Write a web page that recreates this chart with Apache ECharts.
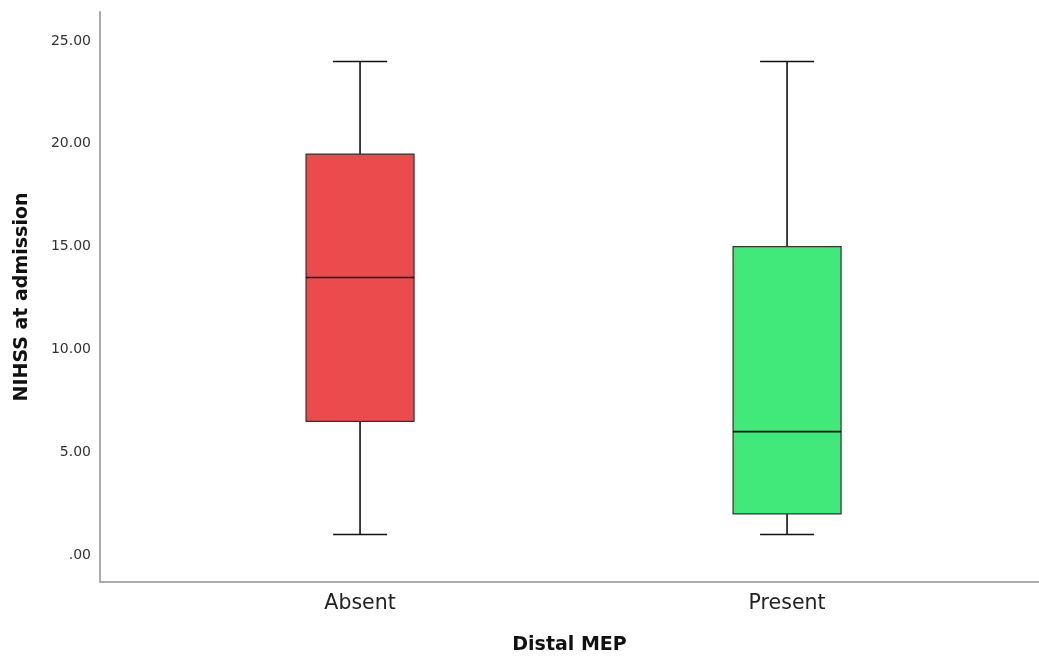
<!DOCTYPE html>
<html>
<head>
<meta charset="utf-8">
<script src="https://cdn.jsdelivr.net/npm/echarts@6/dist/echarts.min.js"></script>
<style>html,body{margin:0;padding:0;background:#fff}#c{width:1039px;height:657px}</style>
</head>
<body>
<div id="c"></div>
<script>
// Data
var categories = ['Absent', 'Present'];
var whiskerLow = [1, 1];
var q1 = [6.5, 2];
var median = [13.5, 6];
var q3 = [19.5, 15];
var whiskerHigh = [24, 24];
var boxColors = ['#EB4B4C', '#41E87A'];
var yTicks = [0, 5, 10, 15, 20, 25];

var data = categories.map(function (c, i) {
  return [i, whiskerLow[i], q1[i], median[i], q3[i], whiskerHigh[i]];
});

var chart = echarts.init(document.getElementById('c'));
var option = {
  animation: false,
  grid: { left: 100, right: 0, top: 12, bottom: 75, containLabel: false, outerBoundsMode: 'none' },
  xAxis: {
    type: 'value',
    min: -0.609, max: 1.59,
    splitLine: { show: false },
    axisTick: { show: false },
    axisLine: { show: true, onZero: false, lineStyle: { color: '#ababab', width: 2 } },
    axisLabel: {
      customValues: [0, 1],
      formatter: function (v) { return categories[Math.round(v)]; },
      fontFamily: 'DejaVu Sans', fontSize: 20.5, color: '#222', margin: 11
    },
    name: 'Distal MEP', nameLocation: 'middle', nameGap: 54,
    nameTextStyle: { fontFamily: 'DejaVu Sans', fontSize: 19, fontWeight: 'bold', color: '#111' }
  },
  yAxis: {
    type: 'value',
    min: -1.313, max: 26.41,
    splitLine: { show: false },
    axisTick: { show: false },
    axisLine: { show: true, onZero: false, lineStyle: { color: '#ababab', width: 2 } },
    axisLabel: {
      customValues: yTicks,
      formatter: function (v) { return v === 0 ? '.00' : v.toFixed(2); },
      fontFamily: 'DejaVu Sans', fontSize: 14, color: '#333', margin: 9
    },
    name: 'NIHSS at admission', nameLocation: 'middle', nameGap: 68,
    nameTextStyle: { fontFamily: 'DejaVu Sans', fontSize: 19, fontWeight: 'bold', color: '#111' }
  },
  series: [{
    type: 'custom',
    data: data,
    encode: { x: 0, y: [1, 2, 3, 4, 5] },
    renderItem: function (params, api) {
      var i = api.value(0);
      var lo = api.coord([i, api.value(1)]);
      var b1 = api.coord([i, api.value(2)]);
      var md = api.coord([i, api.value(3)]);
      var b3 = api.coord([i, api.value(4)]);
      var hi = api.coord([i, api.value(5)]);
      var half = 54;
      var cap = 27;
      var x = lo[0];
      var ls = { stroke: '#111', lineWidth: 1.6 };
      return {
        type: 'group',
        children: [
          { type: 'line', shape: { x1: x, y1: lo[1], x2: x, y2: b1[1] }, style: ls },
          { type: 'line', shape: { x1: x, y1: b3[1], x2: x, y2: hi[1] }, style: ls },
          { type: 'line', shape: { x1: x - cap, y1: lo[1], x2: x + cap, y2: lo[1] }, style: ls },
          { type: 'line', shape: { x1: x - cap, y1: hi[1], x2: x + cap, y2: hi[1] }, style: ls },
          { type: 'rect', shape: { x: x - half, y: b3[1], width: half * 2, height: b1[1] - b3[1] },
            style: { fill: boxColors[params.dataIndex], stroke: '#333', lineWidth: 1.2 } },
          { type: 'line', shape: { x1: x - half, y1: md[1], x2: x + half, y2: md[1] }, style: ls }
        ]
      };
    }
  }]
};
chart.setOption(option);
</script>
</body>
</html>
